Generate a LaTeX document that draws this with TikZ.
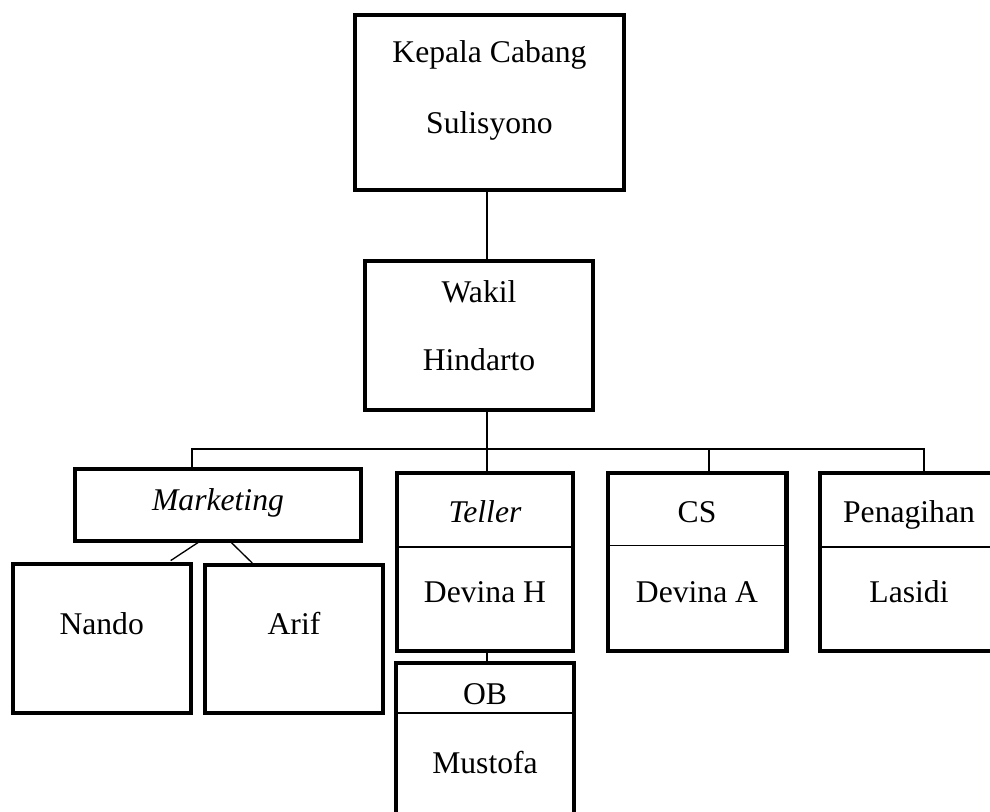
\documentclass[tikz,border=0pt]{standalone}
\usepackage{fontspec}
\setmainfont{Liberation Serif}
\begin{document}
\begin{tikzpicture}[x=0.02cm, y=-0.02cm,
  box/.style={draw, line width=2.3pt, inner sep=0pt, outer sep=0pt},
  link/.style={line width=0.75pt},
  lbl/.style={font=\fontsize{18}{22}\selectfont, inner sep=0pt, anchor=base}]
  \useasboundingbox (0,0) rectangle (990,811);

  % boxes
  \node[box, minimum width=5.38cm, minimum height=3.5cm] (kepala) at (489.5,102.5) {};
  \node[box, minimum width=4.56cm, minimum height=2.98cm] (wakil) at (479,335.5) {};
  \node[box, minimum width=5.73cm, minimum height=1.45cm] (mkt) at (218,505) {};
  \node[box, minimum width=3.56cm, minimum height=2.99cm] (nando) at (101.7,638.3) {};
  \node[box, minimum width=3.55cm, minimum height=2.96cm] (arif) at (294,639) {};
  \node[box, minimum width=3.52cm, minimum height=3.56cm] (teller) at (485,562) {};
  \node[box, minimum width=3.58cm, minimum height=3.56cm] (cs) at (697,562) {};
  \node[box, minimum width=3.6cm, minimum height=3.56cm] (pen) at (909.7,562) {};
  \node[box, minimum width=3.56cm, minimum height=3.6cm] (ob) at (485,753) {};

  % dividers
  \draw[link] ([yshift=-1.48cm]teller.north west) -- ([yshift=-1.48cm]teller.north east);
  \draw[link] ([yshift=-1.45cm]cs.north west) -- ([yshift=-1.45cm]cs.north east);
  \draw[link] ([yshift=-1.48cm]pen.north west) -- ([yshift=-1.48cm]pen.north east);
  \draw[link] ([yshift=-1.0cm]ob.north west) -- ([yshift=-1.0cm]ob.north east);

  % connectors
  \coordinate (bus) at (487,449);
  \coordinate (busL) at (192,449);
  \coordinate (busC) at (709,449);
  \coordinate (busR) at (924,449);
  \draw[link] (kepala.south -| bus) -- (wakil.north -| bus);
  \draw[link] (wakil.south -| bus) -- (teller.north -| bus);
  \draw[link] (mkt.north -| busL) -- (busL) -- (busR) -- (pen.north -| busR);
  \draw[link] (busC) -- (cs.north -| busC);
  \draw[link] (teller.south -| bus) -- (ob.north -| bus);
  \draw[link] ([xshift=-0.36cm]mkt.south) -- ([xshift=-0.4cm, yshift=0.06cm]nando.north east);
  \draw[link] ([xshift=0.24cm]mkt.south) -- ([xshift=0.94cm, yshift=0.04cm]arif.north west);

  % texts
  \node[lbl] (kepalaT) at (489.5,63) {Kepala Cabang};
  \node[lbl] (kepalaN) at (489.5,133) {Sulisyono};
  \node[lbl] (wakilT) at (479,302) {Wakil};
  \node[lbl] (wakilN) at (479,370) {Hindarto};
  \node[lbl] (mktT) at (218,510) {\itshape Marketing};
  \node[lbl] (nandoN) at (101.7,634) {Nando};
  \node[lbl] (arifN) at (294,634) {Arif};
  \node[lbl] (tellerT) at (485,522.5) {\itshape Teller};
  \node[lbl] (tellerN) at (485,602) {Devina H};
  \node[lbl] (csT) at (697,522.5) {CS};
  \node[lbl] (csN) at (697,602) {Devina A};
  \node[lbl] (penT) at (909,522.5) {Penagihan};
  \node[lbl] (penN) at (909,602) {Lasidi};
  \node[lbl] (obT) at (485,704) {OB};
  \node[lbl] (obN) at (485,773) {Mustofa};
\end{tikzpicture}
\end{document}
